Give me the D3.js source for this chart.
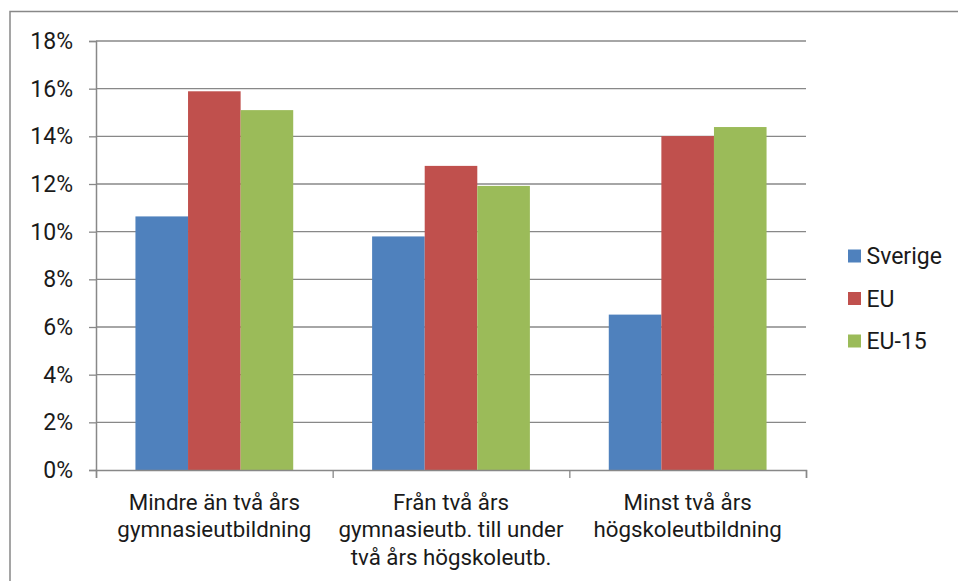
<!DOCTYPE html>
<html>
<head>
<meta charset="utf-8">
<script src="https://cdn.jsdelivr.net/npm/d3@7"></script>
<style>
  body { margin: 0; background: #fff; }
  text { font-family: Roboto, "DejaVu Sans", sans-serif; fill: #1a1a1a; }
</style>
</head>
<body>
<svg id="chart" width="958" height="581"></svg>
<script>
const categories = [
  ["Mindre än två års", "gymnasieutbildning"],
  ["Från två års", "gymnasieutb. till under", "två års högskoleutb."],
  ["Minst två års", "högskoleutbildning"]
]
const seriesNames = ["Sverige", "EU", "EU-15"]
const sverige = [10.64, 9.8, 6.52]
const eu = [15.89, 12.76, 14.01]
const eu15 = [15.1, 11.92, 14.39]
const yTicks = [0, 2, 4, 6, 8, 10, 12, 14, 16, 18]

const colors = ["#4f81bd", "#c0504d", "#9bbb59"]
const seriesValues = [sverige, eu, eu15]
const fontSize = 22.3

const margin = { left: 96, right: 806, top: 41, bottom: 470 }
const svg = d3.select("#chart")

// outer frame (only top and left edges show in the picture)
svg.append("path")
  .attr("d", "M10,581 L10,11.5 L958,11.5")
  .attr("fill", "none")
  .attr("stroke", "#888")
  .attr("stroke-width", 1.5)

const y = d3.scaleLinear().domain([0, 18]).range([margin.bottom, margin.top])

const x0 = d3.scaleBand()
  .domain(d3.range(categories.length))
  .range([margin.left, margin.right])
  .paddingInner(1 / 3)
  .paddingOuter(1 / 6)

const x1 = d3.scaleBand()
  .domain(d3.range(seriesNames.length))
  .range([0, x0.bandwidth()])

// gridlines
svg.append("g").selectAll("line")
  .data(yTicks.slice(1)).enter().append("line")
  .attr("x1", margin.left)
  .attr("x2", margin.right)
  .attr("y1", d => y(d))
  .attr("y2", d => y(d))
  .attr("stroke", "#888")
  .attr("stroke-width", 1.3)

// bars
const groups = svg.append("g").selectAll("g")
  .data(categories).enter().append("g")
  .attr("transform", (d, i) => `translate(${x0(i)},0)`)

groups.selectAll("rect")
  .data((d, i) => seriesValues.map((s, j) => ({ j, v: s[i] })))
  .enter().append("rect")
  .attr("x", d => x1(d.j))
  .attr("width", x1.bandwidth())
  .attr("y", d => y(d.v))
  .attr("height", d => y(0) - y(d.v))
  .attr("fill", d => colors[d.j])

// y axis
const yAxis = svg.append("g")
  .attr("transform", `translate(${margin.left},0)`)
  .call(d3.axisLeft(y).tickValues(yTicks).tickSize(7).tickPadding(16)
    .tickFormat(d => d + "%"))
yAxis.select(".domain").attr("stroke", "#888").attr("stroke-width", 1.5)
yAxis.selectAll(".tick line").attr("stroke", "#888").attr("stroke-width", 1.3)
yAxis.selectAll(".tick text")
  .style("font-size", "23px")
  .attr("fill", "#1a1a1a")
  .attr("font-family", null)

// x axis: ticks at category boundaries
const xBound = d3.scaleLinear().domain([0, categories.length]).range([margin.left, margin.right])
const xAxis = svg.append("g")
  .attr("transform", `translate(0,${margin.bottom})`)
  .call(d3.axisBottom(xBound).ticks(categories.length).tickSize(8).tickFormat(""))
xAxis.select(".domain").attr("stroke", "#888").attr("stroke-width", 1.5)
xAxis.selectAll(".tick line").attr("stroke", "#888").attr("stroke-width", 1.3)

// category labels
const labels = svg.append("g").selectAll("text")
  .data(categories).enter().append("text")
  .attr("x", (d, i) => x0(i) + x0.bandwidth() / 2)
  .attr("y", 502)
  .attr("text-anchor", "middle")
  .style("font-size", fontSize + "px")

labels.selectAll("tspan")
  .data(d => d).enter().append("tspan")
  .attr("x", function () { return this.parentNode.getAttribute("x") })
  .attr("dy", (d, i) => i === 0 ? "0.35em" : "27.5")
  .text(d => d)

// legend
const legend = svg.append("g").selectAll("g")
  .data(seriesNames).enter().append("g")
  .attr("transform", (d, i) => `translate(848,${256 + i * 42.5})`)

legend.append("rect")
  .attr("x", 0)
  .attr("y", -6.5)
  .attr("width", 13)
  .attr("height", 13)
  .attr("fill", (d, i) => colors[i])

legend.append("text")
  .attr("x", 18.5)
  .attr("dy", "0.35em")
  .style("font-size", "23px")
  .text(d => d)
</script>
</body>
</html>
